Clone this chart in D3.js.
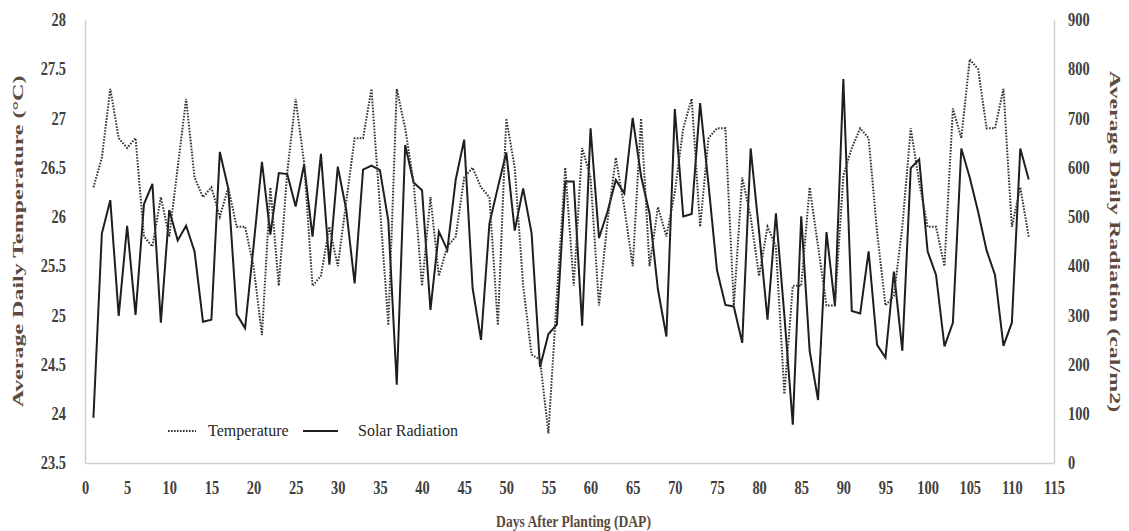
<!DOCTYPE html>
<html>
<head>
<meta charset="utf-8">
<script src="https://cdn.jsdelivr.net/npm/d3@7"></script>
<style>
  body { margin: 0; background: #fff; }
  svg text { font-family: "Liberation Serif", "Times New Roman", serif; }
</style>
</head>
<body>
<div id="chart"></div>
<script>
// day after planting, 1..112
const days = d3.range(1, 113);

// average daily temperature (°C)
const temperature = [
  26.3, 26.6, 27.3, 26.8, 26.7, 26.8, 25.8, 25.7, 26.2, 25.8,
  26.5, 27.2, 26.4, 26.2, 26.3, 26.0, 26.3, 25.9, 25.9, 25.5,
  24.8, 26.3, 25.3, 26.45, 27.2, 26.55, 25.3, 25.4, 25.9, 25.5,
  26.15, 26.8, 26.8, 27.3, 26.1, 24.9, 27.3, 26.9, 26.35, 25.3,
  26.2, 25.4, 25.7, 25.8, 26.4, 26.5, 26.3, 26.2, 24.9, 27.0,
  26.5, 25.3, 24.6, 24.55, 23.8, 25.2, 26.5, 25.3, 26.7, 26.4,
  25.1, 25.95, 26.6, 26.1, 25.5, 27.0, 25.5, 26.1, 25.8, 26.25,
  26.9, 27.2, 25.9, 26.8, 26.9, 26.9, 25.1, 26.4, 26.0, 25.4,
  25.9, 25.7, 24.2, 25.3, 25.3, 26.3, 25.7, 25.1, 25.1, 26.42,
  26.7, 26.9, 26.8, 25.85, 25.1, 25.2, 25.9, 26.9, 26.35, 25.9,
  25.9, 25.5, 27.1, 26.8, 27.6, 27.5, 26.9, 26.9, 27.3, 25.9,
  26.3, 25.8
];

// average daily solar radiation (cal/m2)
const radiation = [
  92, 466, 534, 299, 482, 301, 526, 567, 285, 514,
  452, 482, 430, 287, 291, 632, 558, 302, 274, 440,
  612, 464, 589, 587, 521, 606, 460, 628, 403, 602,
  515, 365, 596, 604, 595, 492, 159, 646, 570, 554,
  311, 470, 433, 576, 657, 355, 250, 487, 560, 631,
  472, 558, 467, 195, 262, 281, 572, 572, 279, 680,
  457, 510, 575, 548, 701, 582, 507, 352, 257, 719,
  501, 506, 731, 565, 392, 321, 318, 244, 639, 470,
  291, 507, 300, 78, 501, 228, 128, 469, 319, 780,
  309, 304, 430, 240, 214, 389, 228, 599, 617, 430,
  382, 237, 285, 639, 580, 510, 432, 382, 238, 285,
  639, 576
];

const xTicks = d3.range(0, 116, 5);
const tempTicks = d3.range(23.5, 28.01, 0.5);
const radTicks = d3.range(0, 901, 100);

const W = 1129, H = 531;
const plot = { left: 85, right: 1054, top: 20, bottom: 463 };

const svg = d3.select("#chart")
  .append("svg")
  .attr("width", W)
  .attr("height", H);

const x = d3.scaleLinear().domain([0, 115]).range([plot.left, plot.right]);
const yT = d3.scaleLinear().domain([23.5, 28]).range([plot.bottom, plot.top]);
const yR = d3.scaleLinear().domain([0, 900]).range([plot.bottom, plot.top]);

const tickColor = "#404040";
const titleColor = "#5b4a40";

// the source figure is squeezed sideways, so text is drawn tall and narrow
function squeeze(sel, sx) {
  sel.each(function () {
    const t = d3.select(this);
    const tx = +t.attr("x") || 0;
    const ty = +t.attr("y") || 0;
    t.attr("x", 0).attr("y", 0)
      .attr("transform", `translate(${tx},${ty}) scale(${sx},1)`);
  });
}

// axes
const xAxis = svg.append("g")
  .attr("transform", `translate(0,${plot.bottom})`)
  .call(d3.axisBottom(x).tickValues(xTicks).tickSize(0).tickPadding(18));

const leftAxis = svg.append("g")
  .attr("transform", `translate(${plot.left},0)`)
  .call(d3.axisLeft(yT).tickValues(tempTicks).tickSize(0).tickPadding(19)
    .tickFormat(d => String(+d.toFixed(1))));

const rightAxis = svg.append("g")
  .attr("transform", `translate(${plot.right},0)`)
  .call(d3.axisRight(yR).tickValues(radTicks).tickSize(0).tickPadding(14));

[xAxis, leftAxis, rightAxis].forEach(g => {
  g.select(".domain").attr("stroke", "#d0d0d0").attr("stroke-width", 1.5);
  g.selectAll("text")
    .attr("fill", tickColor)
    .style("font-size", "18px")
    .style("font-weight", "bold")
    .call(squeeze, 0.8);
});

// lines
const tempLine = d3.line()
  .x((d, i) => x(days[i]))
  .y(d => yT(d));

const radLine = d3.line()
  .x((d, i) => x(days[i]))
  .y(d => yR(d));

svg.append("path")
  .datum(radiation)
  .attr("fill", "none")
  .attr("stroke", "#1e1e1e")
  .attr("stroke-width", 2)
  .attr("d", radLine);

svg.append("path")
  .datum(temperature)
  .attr("fill", "none")
  .attr("stroke", "#333")
  .attr("stroke-width", 2)
  .attr("stroke-dasharray", "1.6,1.4")
  .attr("d", tempLine);

// axis titles
svg.append("text")
  .attr("transform", `translate(23,${(plot.top + plot.bottom) / 2}) rotate(-90) scale(1.6,1)`)
  .attr("text-anchor", "middle")
  .attr("fill", titleColor)
  .style("font-size", "15px")
  .style("font-weight", "bold")
  .text("Average Daily Temperature (°C)");

svg.append("text")
  .attr("transform", `translate(1110,${(plot.top + plot.bottom) / 2}) rotate(90) scale(1.6,1)`)
  .attr("text-anchor", "middle")
  .attr("fill", titleColor)
  .style("font-size", "15px")
  .style("font-weight", "bold")
  .text("Average Daily Radiation (cal/m2)");

svg.append("text")
  .attr("transform", `translate(${(plot.left + plot.right) / 2 + 4},527) scale(0.8,1)`)
  .attr("text-anchor", "middle")
  .attr("fill", titleColor)
  .style("font-size", "17px")
  .style("font-weight", "bold")
  .text("Days After Planting (DAP)");

// legend
const legend = svg.append("g").attr("transform", "translate(0,431)");

legend.append("line")
  .attr("x1", 168).attr("x2", 196)
  .attr("stroke", "#333").attr("stroke-width", 2)
  .attr("stroke-dasharray", "1.6,1.4");

legend.append("text")
  .attr("transform", "translate(208,0)")
  .attr("dy", "0.32em")
  .attr("fill", "#262626")
  .style("font-size", "16px")
  .text("Temperature");

legend.append("line")
  .attr("x1", 303).attr("x2", 338)
  .attr("stroke", "#1e1e1e").attr("stroke-width", 2);

legend.append("text")
  .attr("transform", "translate(358,0)")
  .attr("dy", "0.32em")
  .attr("fill", "#262626")
  .style("font-size", "16px")
  .text("Solar Radiation");
</script>
</body>
</html>
